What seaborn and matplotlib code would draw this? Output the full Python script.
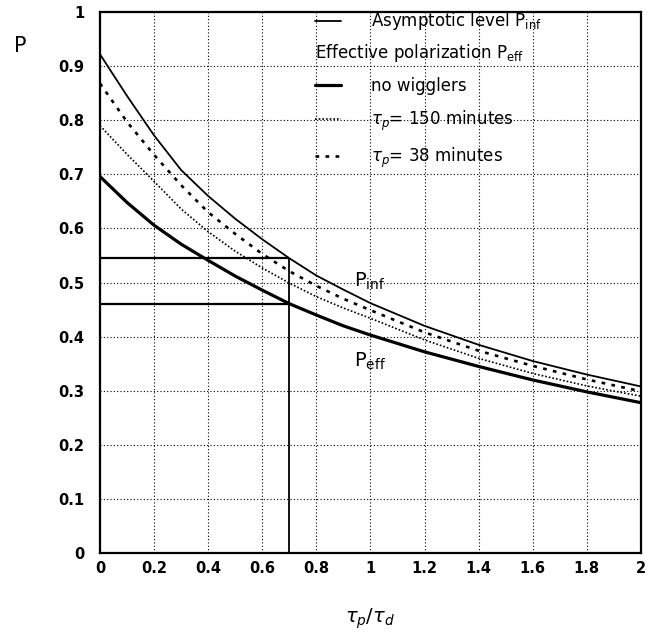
import matplotlib
matplotlib.use('Agg')
from matplotlib import pyplot as plt
from matplotlib.lines import Line2D
import matplotlib.ticker as ticker
import seaborn as sns
import pandas as pd

sns.set_theme(style='white')
plt.rcParams['font.family'] = ['DejaVu Sans']
plt.rcParams['mathtext.fontset'] = 'dejavusans'
plt.rcParams['text.color'] = 'black'
plt.rcParams['axes.labelcolor'] = 'black'
plt.rcParams['xtick.color'] = 'black'
plt.rcParams['ytick.color'] = 'black'

# values
tau_ratio = [0, 0.1, 0.2, 0.3, 0.4, 0.5, 0.6, 0.7, 0.8, 0.9, 1.0, 1.2, 1.4, 1.6, 1.8, 2.0]
p_inf = [0.922, 0.845, 0.772, 0.708, 0.660, 0.618, 0.580, 0.545, 0.513, 0.487, 0.462,
         0.420, 0.385, 0.355, 0.330, 0.308]
p_eff_38 = [0.868, 0.797, 0.736, 0.680, 0.630, 0.590, 0.553, 0.521, 0.494, 0.470, 0.449,
            0.408, 0.374, 0.346, 0.321, 0.299]
p_eff_150 = [0.790, 0.737, 0.687, 0.636, 0.594, 0.558, 0.527, 0.499, 0.474, 0.453, 0.434,
             0.394, 0.360, 0.332, 0.309, 0.290]
p_eff_nowig = [0.696, 0.648, 0.606, 0.571, 0.541, 0.512, 0.486, 0.461, 0.440, 0.420, 0.403,
               0.372, 0.345, 0.320, 0.298, 0.278]

# working point marked on the plot
x_ref = 0.7
p_inf_ref = 0.545
p_eff_ref = 0.46

df = pd.DataFrame({
    'tau': tau_ratio,
    'inf': p_inf,
    'eff38': p_eff_38,
    'eff150': p_eff_150,
    'nowig': p_eff_nowig,
})

fig = plt.figure(figsize=(6.48, 6.35), dpi=100)
ax = fig.add_axes([0.1543, 0.129, 0.8347, 0.852])

styles = {
    'inf': dict(lw=1.3, ls='-'),
    'nowig': dict(lw=2.3, ls='-'),
    'eff150': dict(lw=1.2, ls=(0, (1, 1.2))),
    'eff38': dict(lw=1.9, ls=(0, (1.4, 2.4))),
}
for col, st in styles.items():
    sns.lineplot(data=df, x='tau', y=col, ax=ax, color='black', estimator=None,
                 sort=False, **st)

ax.hlines([p_inf_ref, p_eff_ref], 0, x_ref, color='black', lw=1.6)
ax.vlines(x_ref, 0, p_inf_ref, color='black', lw=1.3)

ax.text(0.94, 0.503, r'P$_{\rm inf}$', fontsize=14, va='center')
ax.text(0.94, 0.355, r'P$_{\rm eff}$', fontsize=14, va='center')

ax.set_xlim(0, 2)
ax.set_ylim(0, 1)
ax.xaxis.set_major_locator(ticker.MultipleLocator(0.2))
ax.yaxis.set_major_locator(ticker.MultipleLocator(0.1))
ax.yaxis.set_minor_locator(ticker.MultipleLocator(0.02))
ax.xaxis.set_major_formatter(ticker.FuncFormatter(lambda v, p: f'{v:g}'))
ax.yaxis.set_major_formatter(ticker.FuncFormatter(lambda v, p: f'{v:g}'))
ax.tick_params(axis='both', which='both', direction='in', color='black')
ax.tick_params(axis='y', which='major', length=7, width=1.3, pad=11, labelsize=10.5)
ax.tick_params(axis='y', which='minor', length=4, width=1.1)
ax.tick_params(axis='x', which='major', length=6, width=1.3, pad=6, labelsize=10.5)
for lab in ax.get_xticklabels() + ax.get_yticklabels():
    lab.set_fontweight('bold')

ax.grid(True, which='major', color='black', ls=(0, (1, 2)), lw=0.8)
for sp in ax.spines.values():
    sp.set_color('black')
    sp.set_linewidth(1.6)

ax.set_xlabel(r'$\tau_p/\tau_d$', fontsize=14, labelpad=22)
ax.set_ylabel('')
fig.text(0.031, 0.928, 'P', fontsize=15, ha='center', va='center')

h_inf = Line2D([], [], color='black', lw=1.3)
leg1 = ax.legend([h_inf], [r'Asymptotic level P$_{\rm inf}$'], loc='upper left',
                 bbox_to_anchor=(0.397, 1.003), frameon=False, fontsize=12,
                 handlelength=1.6, handletextpad=1.8, borderpad=0, borderaxespad=0)
ax.add_artist(leg1)

h_eff = [Line2D([], [], color='black', lw=2.3),
         Line2D([], [], color='black', lw=1.2, ls=(0, (1, 1.2))),
         Line2D([], [], color='black', lw=1.9, ls=(0, (1.4, 2.4)))]
ax.legend(h_eff, ['no wigglers', r'$\tau_p$= 150 minutes', r'$\tau_p$= 38 minutes'],
          title=r'Effective polarization P$_{\rm eff}$', title_fontsize=12,
          alignment='left', loc='upper left', bbox_to_anchor=(0.397, 0.945),
          frameon=False, fontsize=12, handlelength=1.6, handletextpad=1.8,
          borderpad=0, borderaxespad=0, labelspacing=0.8)

fig.savefig('out.png', dpi=100)
